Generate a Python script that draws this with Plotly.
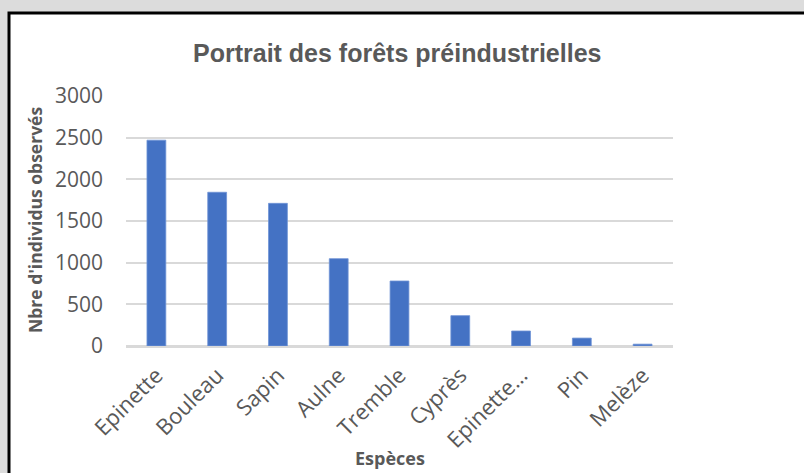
import plotly.graph_objects as go

categories = ["Epinette", "Bouleau", "Sapin", "Aulne", "Tremble", "Cyprès", "Epinette…", "Pin", "Melèze"]
values = [2470, 1845, 1712, 1048, 780, 364, 180, 95, 22]
y_ticks = [0, 500, 1000, 1500, 2000, 2500, 3000]

title_text = "Portrait des forêts préindustrielles"
y_title = "Nbre d'individus observés"
x_title = "Espèces"

W, H = 804, 473
L, R, T, B = 126, 131, 96, 127
pw, ph = W - L - R, H - T - B

def px_x(p):
    return (p - L) / pw

def px_y(p):
    return (H - B - p) / ph

grey = "#595959"
fam = "Open Sans, Lato, sans-serif"

fig = go.Figure(
    go.Bar(
        x=categories,
        y=values,
        marker=dict(color="#4472C4", line=dict(color="#6f93d6", width=0.8)),
    )
)

fig.update_layout(
    width=W,
    height=H,
    margin=dict(l=L, r=R, t=T, b=B),
    paper_bgcolor="#dcdcdc",
    plot_bgcolor="white",
    bargap=0.69,
    showlegend=False,
    shapes=[
        dict(
            type="rect", xref="paper", yref="paper", layer="below",
            x0=px_x(9), x1=px_x(W + 20), y0=px_y(H + 20), y1=px_y(13),
            fillcolor="white", line=dict(color="black", width=3),
        )
    ],
    annotations=[
        dict(text=f"<b>{title_text}</b>", xref="paper", yref="paper",
             x=px_x(397), y=px_y(53), xanchor="center", yanchor="middle", showarrow=False,
             font=dict(family="Liberation Sans, Arial, sans-serif", size=25, color=grey)),
        dict(text=f"<b>{y_title}</b>", xref="paper", yref="paper",
             x=px_x(35), y=px_y(220), xanchor="center", yanchor="middle", showarrow=False, textangle=-90,
             font=dict(family=fam, size=17.5, color=grey)),
        dict(text=f"<b>{x_title}</b>", xref="paper", yref="paper",
             x=px_x(390), y=px_y(458), xanchor="center", yanchor="middle", showarrow=False,
             font=dict(family=fam, size=18, color=grey)),
    ],
)

fig.update_xaxes(
    tickangle=-45,
    tickfont=dict(family=fam, size=22, color=grey),
    showline=True, linecolor="#d9d9d9", linewidth=1.5,
    showgrid=False, ticks="", ticklabelstandoff=6,
)
fig.update_yaxes(
    range=[0, 3000],
    tickvals=y_ticks,
    tickfont=dict(family=fam, size=21, color=grey),
    showgrid=True, gridcolor="#d9d9d9", gridwidth=1.5,
    zeroline=True, zerolinecolor="#d9d9d9", zerolinewidth=1.5,
    ticks="", ticklabelstandoff=22,
)

fig.write_html("out.html", config={"displayModeBar": False},
               post_script="document.body.style.margin='0';document.body.style.overflow='hidden';")
